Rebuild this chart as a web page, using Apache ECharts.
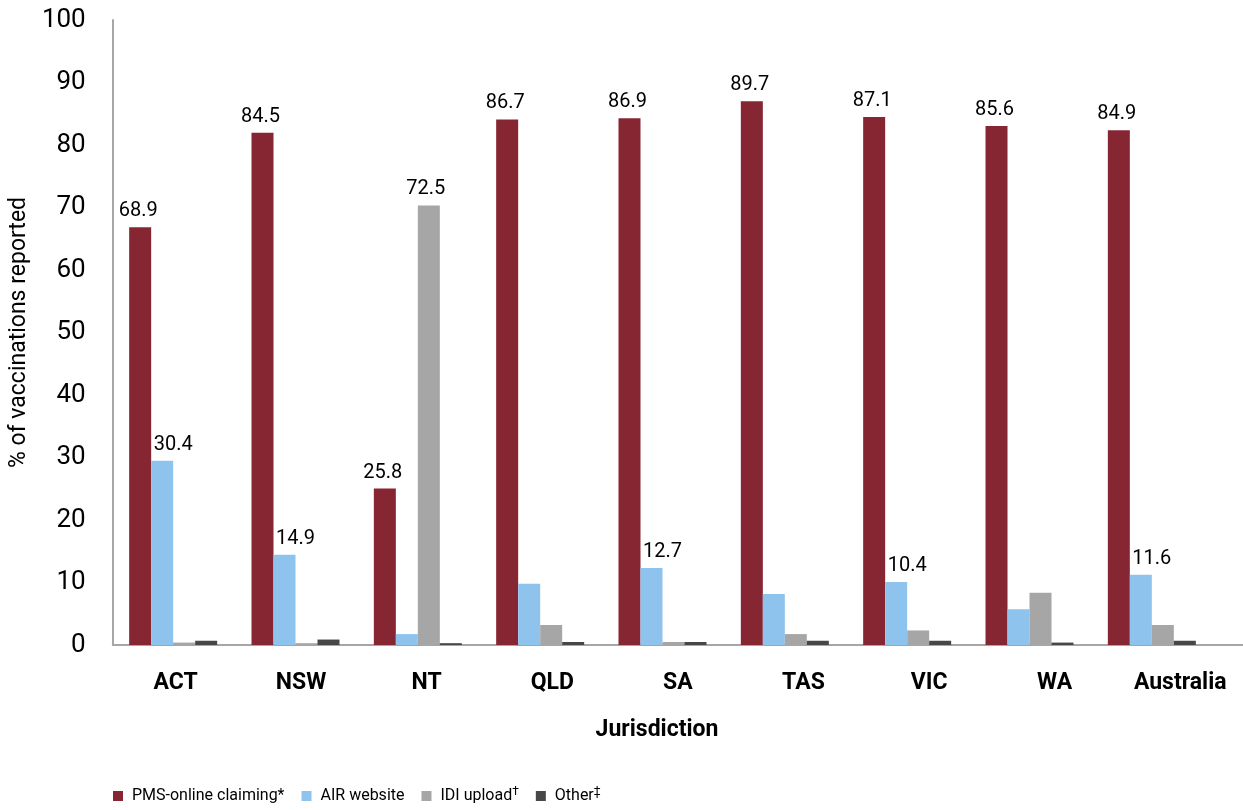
<!DOCTYPE html>
<html>
<head>
<meta charset="utf-8">
<script src="https://cdn.jsdelivr.net/npm/echarts@6/dist/echarts.min.js"></script>
<style>
html,body{margin:0;padding:0;background:#fff;}
#chart{width:1243px;height:810px;}
</style>
</head>
<body>
<div id="chart"></div>
<script>
// ---- data ----
const categories = ['ACT', 'NSW', 'NT', 'QLD', 'SA', 'TAS', 'VIC', 'WA', 'Australia'];
const pmsOnline = [68.9, 84.5, 25.8, 86.7, 86.9, 89.7, 87.1, 85.6, 84.9];
const airWebsite = [30.4, 14.9, 1.8, 10.1, 12.7, 8.4, 10.4, 5.9, 11.6];
const idiUpload = [0.4, 0.3, 72.5, 3.3, 0.5, 1.8, 2.4, 8.6, 3.3];
const otherMethod = [0.7, 0.9, 0.3, 0.5, 0.5, 0.7, 0.7, 0.4, 0.7];
const pmsLabelled = ['ACT', 'NSW', 'NT', 'QLD', 'SA', 'TAS', 'VIC', 'WA', 'Australia'];
const airLabelled = ['ACT', 'NSW', 'SA', 'VIC', 'Australia'];
const idiLabelled = ['NT'];
const otherLabelled = [];
const seriesNames = ['PMS-online claiming', 'AIR website', 'IDI upload', 'Other'];
const seriesMarks = ['*', '', '†', '‡'];
const yTickMin = 0, yTickMax = 100, yTickStep = 10;

const colors = ['#862633', '#8EC3EE', '#A6A6A6', '#474747'];
const FONT = 'Roboto, "Noto Sans", sans-serif';

function items(vals, labelled) {
  return vals.map((v, i) => ({ value: v, label: { show: labelled.indexOf(categories[i]) >= 0 } }));
}

const chart = echarts.init(document.getElementById('chart'));
const labelOffsets = [[-2, 0], [11, 0], [-3, 0], [0, 0]];
const allVals = [pmsOnline, airWebsite, idiUpload, otherMethod];
const allLab = [pmsLabelled, airLabelled, idiLabelled, otherLabelled];

const series = seriesNames.map((n, k) => ({
  name: n,
  type: 'bar',
  xAxisIndex: 0,
  yAxisIndex: 0,
  barWidth: 22,
  barGap: '0%',
  itemStyle: { color: colors[k] },
  label: {
    position: 'top',
    distance: 6,
    offset: labelOffsets[k],
    color: '#000',
    fontFamily: FONT,
    fontSize: 20,
    formatter: p => p.value.toFixed(1)
  },
  data: items(allVals[k], allLab[k])
}));

chart.setOption({
  animation: false,
  backgroundColor: '#fff',
  title: {
    text: 'Jurisdiction',
    left: 657,
    top: 719,
    textAlign: 'center',
    padding: 0,
    textStyle: { fontFamily: FONT, fontSize: 23, fontWeight: 'bold', color: '#000' }
  },
  legend: {
    left: 108,
    top: 781,
    itemWidth: 10,
    itemHeight: 10,
    itemGap: 17,
    icon: 'rect',
    data: seriesNames,
    formatter: name => {
      const k = seriesNames.indexOf(name);
      if (k === 0) return name + seriesMarks[0];
      return seriesMarks[k] ? name + '{sup|' + seriesMarks[k] + '}' : name;
    },
    textStyle: {
      fontFamily: FONT,
      fontSize: 16,
      color: '#000',
      padding: [0, 0, 0, 4],
      rich: { sup: { fontSize: 12, verticalAlign: 'top', padding: [0, 14, 8, 0], fontFamily: FONT } }
    }
  },
  grid: [
    { left: 112, right: 30, top: 20, bottom: 165 },
    { left: 108.5, right: 0, top: 20, bottom: 165 }
  ],
  xAxis: [
    { gridIndex: 0, type: 'category', data: categories, show: false },
    {
      gridIndex: 1, type: 'category', data: categories,
      axisLine: { show: true, lineStyle: { color: '#A6A6A6', width: 2 } },
      axisTick: { show: false },
      axisLabel: { margin: 27, color: '#000', fontFamily: FONT, fontSize: 23, fontWeight: 'bold' },
      splitLine: { show: false }
    }
  ],
  yAxis: [
    { gridIndex: 0, type: 'value', min: 0, max: 103.1, show: false },
    {
      gridIndex: 1, type: 'value', min: yTickMin, max: yTickMax, interval: yTickStep,
      name: '% of vaccinations reported',
      nameLocation: 'middle',
      nameGap: 70,
      nameTextStyle: { fontFamily: FONT, fontSize: 23, color: '#000' },
      axisLine: { show: true, lineStyle: { color: '#A6A6A6', width: 2 } },
      axisTick: { show: false },
      splitLine: { show: false },
      axisLabel: { margin: 27, color: '#000', fontFamily: FONT, fontSize: 26 }
    }
  ],
  series: series
});
</script>
</body>
</html>
